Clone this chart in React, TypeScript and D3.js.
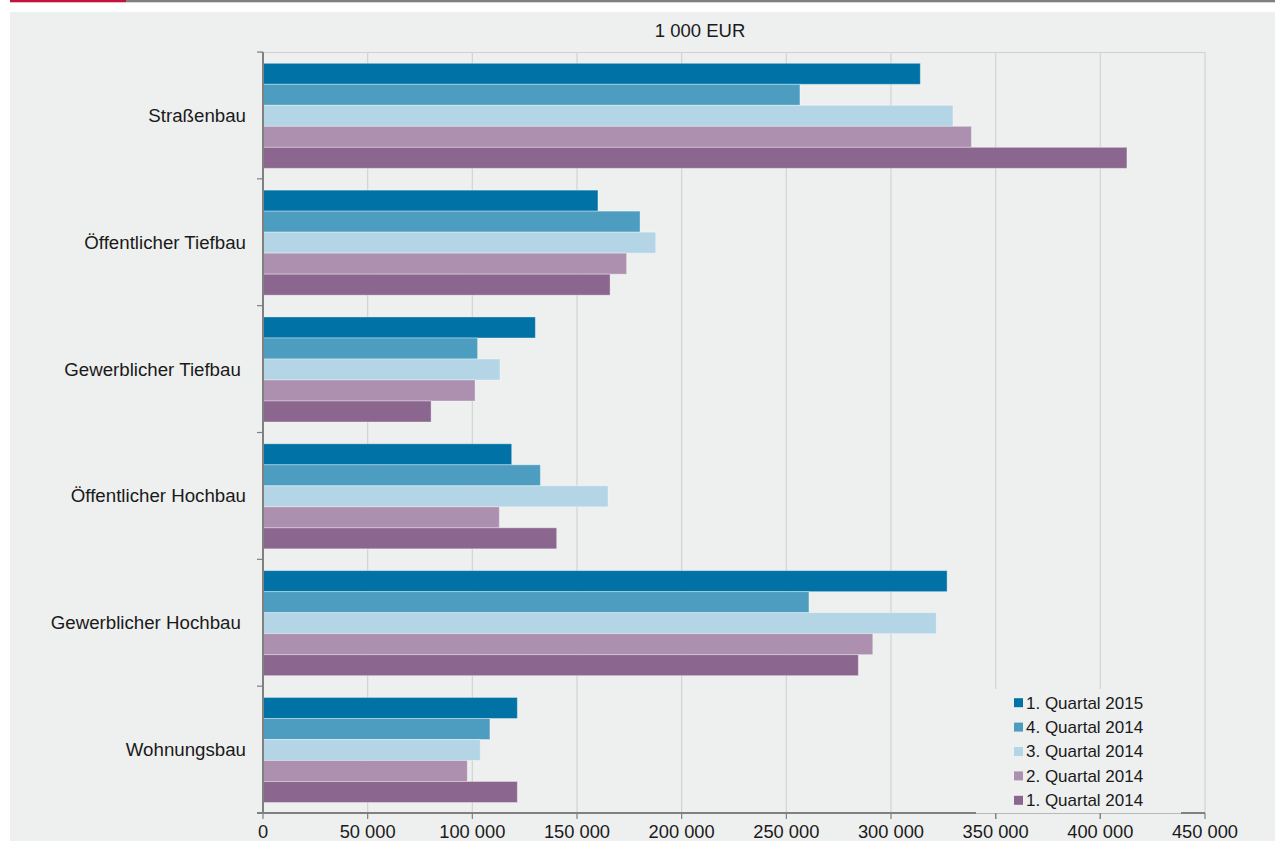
import React from "react";
import * as d3 from "d3";

const categories = [
  "Straßenbau",
  "Öffentlicher Tiefbau",
  "Gewerblicher Tiefbau ",
  "Öffentlicher Hochbau",
  "Gewerblicher Hochbau ",
  "Wohnungsbau",
];

const seriesNames = [
  "1. Quartal 2015",
  "4. Quartal 2014",
  "3. Quartal 2014",
  "2. Quartal 2014",
  "1. Quartal 2014",
];

const seriesColors = ["#0072a5", "#4c9dc0", "#b3d5e5", "#ad90b0", "#8b668f"];

// values per series, in category order (1 000 EUR)
const q1_2015 = [314000, 160000, 130100, 118800, 326800, 121500];
const q4_2014 = [256500, 180100, 102500, 132500, 260800, 108400];
const q3_2014 = [329600, 187600, 113200, 164800, 321600, 103800];
const q2_2014 = [338400, 173700, 101300, 112900, 291300, 97600];
const q1_2014 = [412700, 165800, 80300, 140300, 284400, 121500];

const seriesValues = [q1_2015, q4_2014, q3_2014, q2_2014, q1_2014];

const xTicks = [0, 50000, 100000, 150000, 200000, 250000, 300000, 350000, 400000, 450000];
const title = "1 000 EUR";

const W = 1275;
const H = 841;
const FONT = "'Liberation Sans', Arial, Helvetica, sans-serif";

export default function App() {
  const x = d3.scaleLinear().domain([0, 450000]).range([263, 1205]);
  const y = d3.scaleBand<string>().domain(categories).range([52, 813]).padding(0);
  const step = y.step();
  const sub = d3
    .scaleBand<string>()
    .domain(seriesNames)
    .range([11.3, step - 10.5])
    .padding(0);
  const fmt = (v: number) => d3.format(",")(v).replace(/,/g, " ");

  const legendX = 1014;
  const legendY0 = 702.7;
  const legendStep = 24.4;

  return (
    <div style={{ position: "fixed", left: 0, top: 0, width: W, height: H }}>
      <svg width={W} height={H} style={{ display: "block", fontFamily: FONT }}>
        <rect x={0} y={0} width={W} height={H} fill="#ffffff" />
        {/* top rule */}
        <rect x={10} y={0} width={116} height={2.3} fill="#c0143c" />
        <rect x={126} y={0} width={W - 126} height={2.3} fill="#808080" />
        {/* panel */}
        <rect x={10} y={12} width={W - 10} height={H - 12} fill="#eeefef" />

        <text x={700} y={37} textAnchor="middle" fontSize={18.5} fill="#1a1a1a">
          {title}
        </text>

        {/* grid */}
        <line x1={258} x2={1205} y1={52.5} y2={52.5} stroke="#cfd0d0" strokeWidth={1} />
        {xTicks.slice(1).map((t) => (
          <line key={"g" + t} x1={x(t)} x2={x(t)} y1={52} y2={813} stroke="#d2d3d3" strokeWidth={1.2} />
        ))}

        {/* bars */}
        {categories.map((c, ci) => (
          <g key={c} transform={`translate(0,${y(c)})`}>
            {seriesNames.map((s, si) => (
              <rect
                key={s}
                x={x(0)}
                y={sub(s)}
                width={x(seriesValues[si][ci]) - x(0)}
                height={sub.bandwidth()}
                fill={seriesColors[si]}
                stroke="rgba(255,255,255,0.35)"
                strokeWidth={1}
              />
            ))}
          </g>
        ))}

        {/* y axis */}
        <line x1={263} x2={263} y1={52} y2={814} stroke="#808080" strokeWidth={2} />
        {d3.range(categories.length + 1).map((i) => (
          <line key={"yt" + i} x1={257} x2={263} y1={52 + i * step} y2={52 + i * step} stroke="#808080" strokeWidth={1.2} />
        ))}
        {categories.map((c) => (
          <text
            key={"l" + c}
            x={246}
            y={(y(c) as number) + step / 2}
            dy="0.35em"
            textAnchor="end"
            fontSize={18.7}
            fill="#1a1a1a"
            style={{ whiteSpace: "pre" }}
          >
            {c}
          </text>
        ))}

        {/* x axis */}
        <line x1={257} x2={1205} y1={813} y2={813} stroke="#808080" strokeWidth={2} />
        {xTicks.map((t) => (
          <line key={"xt" + t} x1={x(t)} x2={x(t)} y1={813} y2={819} stroke="#808080" strokeWidth={1.2} />
        ))}

        {/* legend box covering grid */}
        <rect x={976} y={689} width={205} height={124.5} fill="#eeefef" />
        {xTicks
          .filter((t) => x(t) > 976 && x(t) < 1181)
          .map((t) => (
            <line key={"xt2" + t} x1={x(t)} x2={x(t)} y1={813} y2={819} stroke="#808080" strokeWidth={1.2} />
          ))}
        {seriesNames.map((s, si) => (
          <g key={"lg" + s}>
            <rect x={legendX} y={legendY0 + si * legendStep - 4.5} width={9} height={9} fill={seriesColors[si]} />
            <text x={1026} y={legendY0 + si * legendStep} dy="0.35em" fontSize={17} fill="#1a1a1a">
              {s}
            </text>
          </g>
        ))}

        {xTicks.map((t) => (
          <text key={"xl" + t} x={x(t)} y={838} textAnchor="middle" fontSize={18.3} fill="#1a1a1a">
            {fmt(t)}
          </text>
        ))}
      </svg>
    </div>
  );
}
